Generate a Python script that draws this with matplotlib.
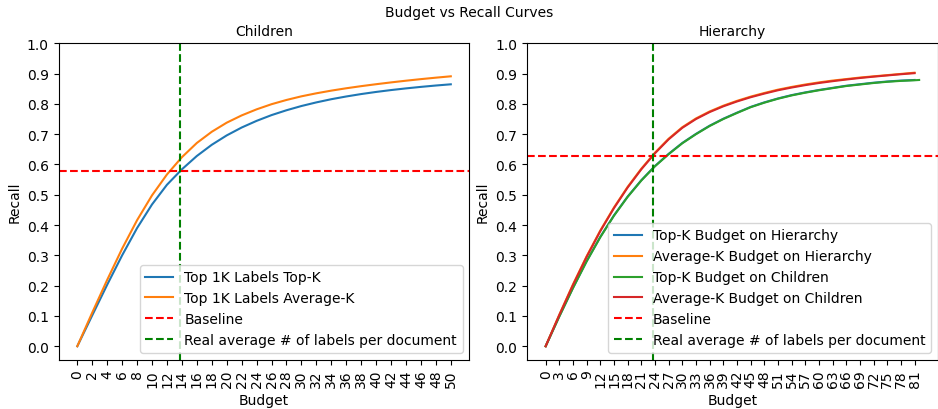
import numpy as np
import matplotlib
matplotlib.use("Agg")
import matplotlib.pyplot as plt

# ---------------- data ----------------
left_budget = list(range(0, 51, 2))
left_topk = [0.000, 0.102, 0.203, 0.300, 0.390, 0.468, 0.533, 0.584, 0.628, 0.665,
             0.696, 0.722, 0.744, 0.763, 0.779, 0.793, 0.805, 0.8155, 0.8245, 0.8325,
             0.8395, 0.8457, 0.8512, 0.8562, 0.8607, 0.8647]
left_avgk = [0.000, 0.111, 0.219, 0.322, 0.416, 0.498, 0.567, 0.624, 0.671, 0.708,
             0.738, 0.762, 0.782, 0.799, 0.813, 0.825, 0.835, 0.8438, 0.8516, 0.8586,
             0.865, 0.871, 0.8766, 0.8818, 0.8866, 0.8911]
left_baseline = 0.578
left_real_avg = 13.7

right_budget_hier = list(range(0, 82, 3))
right_budget_child = list(range(0, 82, 3)) + [82]
right_topk_hier = [0.000, 0.099, 0.193, 0.281, 0.361, 0.432, 0.494, 0.548, 0.595, 0.635,
                   0.671, 0.701, 0.728, 0.751, 0.771, 0.790, 0.805, 0.818, 0.829, 0.838,
                   0.846, 0.853, 0.860, 0.865, 0.870, 0.874, 0.877, 0.879]
right_avgk_hier = [0.000, 0.104, 0.204, 0.297, 0.382, 0.458, 0.526, 0.586, 0.639, 0.685,
                   0.723, 0.752, 0.775, 0.794, 0.810, 0.824, 0.836, 0.847, 0.856, 0.864,
                   0.871, 0.877, 0.882, 0.887, 0.891, 0.895, 0.899, 0.903]
right_topk_child = [0.000, 0.098, 0.192, 0.280, 0.360, 0.431, 0.493, 0.547, 0.594, 0.634,
                    0.670, 0.700, 0.727, 0.750, 0.770, 0.789, 0.804, 0.817, 0.828, 0.837,
                    0.845, 0.852, 0.859, 0.864, 0.869, 0.873, 0.876, 0.878, 0.879]
right_avgk_child = [0.000, 0.103, 0.202, 0.295, 0.380, 0.456, 0.524, 0.584, 0.637, 0.683,
                    0.721, 0.750, 0.773, 0.792, 0.808, 0.822, 0.834, 0.845, 0.854, 0.862,
                    0.869, 0.875, 0.8805, 0.8855, 0.890, 0.894, 0.898, 0.9015]
right_baseline = 0.629
right_real_avg = 23.6

left_xticks = list(range(0, 51, 2))
right_xticks = list(range(0, 82, 3))
yticks = [0.0, 0.1, 0.2, 0.3, 0.4, 0.5, 0.6, 0.7, 0.8, 0.9, 1.0]

# ---------------- plot ----------------
plt.rcParams['font.family'] = ['DejaVu Sans']
plt.rcParams['font.size'] = 10

fig = plt.figure(figsize=(9.38, 4.10), dpi=100)
ax1 = fig.add_axes([0.0625, 0.1202, 0.438, 0.7717])
ax2 = fig.add_axes([0.5618, 0.1202, 0.438, 0.7717])

ax1.plot(left_budget, left_topk, color='C0', label='Top 1K Labels Top-K')
ax1.plot(left_budget, left_avgk, color='C1', label='Top 1K Labels Average-K')
ax1.axhline(left_baseline, color='red', linestyle='--', label='Baseline')
ax1.axvline(left_real_avg, color='green', linestyle='--',
            label='Real average # of labels per document')
ax1.set_title('Children', fontsize=10)
ax1.set_xlabel('Budget')
ax1.set_ylabel('Recall')
ax1.set_xlim(-2.5, 52.5)
ax1.set_xticks(left_xticks)
ax1.set_xticklabels([str(t) for t in left_xticks], rotation=90)
ax1.set_yticks(yticks)
ax1.set_ylim(-0.0445, 1.0)
ax1.legend(loc='lower right')

ax2.plot(right_budget_hier, right_topk_hier, color='C0', label='Top-K Budget on Hierarchy')
ax2.plot(right_budget_hier, right_avgk_hier, color='C1', label='Average-K Budget on Hierarchy')
ax2.plot(right_budget_child, right_topk_child, color='C2', label='Top-K Budget on Children')
ax2.plot(right_budget_hier, right_avgk_child, color='C3', label='Average-K Budget on Children')
ax2.axhline(right_baseline, color='red', linestyle='--', label='Baseline')
ax2.axvline(right_real_avg, color='green', linestyle='--',
            label='Real average # of labels per document')
ax2.set_title('Hierarchy', fontsize=10)
ax2.set_xlabel('Budget')
ax2.set_ylabel('Recall')
ax2.set_xlim(-4.1, 86.1)
ax2.set_xticks(right_xticks)
ax2.set_xticklabels([str(t) for t in right_xticks], rotation=90)
ax2.set_yticks(yticks)
ax2.set_ylim(-0.0445, 1.0)
ax2.legend(loc='lower right')

fig.suptitle('Budget vs Recall Curves', fontsize=10, y=0.985)

fig.savefig('out.png', dpi=100)
